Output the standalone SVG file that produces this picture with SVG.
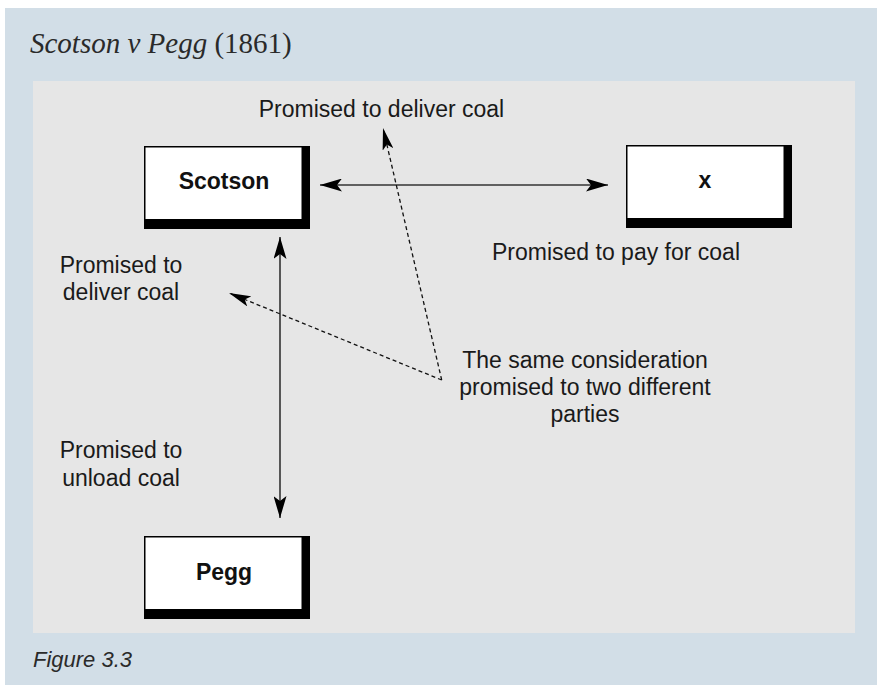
<svg xmlns="http://www.w3.org/2000/svg" width="877" height="685" viewBox="0 0 877 685">
  <style>
    .lbl { font-family: "Liberation Sans", Arial, sans-serif; font-size: 23px; fill: #1a1a1a; }
    .node-text { font-family: "Liberation Sans", Arial, sans-serif; font-size: 23px; font-weight: bold; fill: #111; text-anchor: middle; }
    .shadow { fill: #000; }
    .face { fill: #fff; stroke: #000; stroke-width: 1.5; }
    .solid { stroke: #333; stroke-width: 1.6; fill: none; }
    .dashed { stroke: #111; stroke-width: 1.3; stroke-dasharray: 4 3; fill: none; }
  </style>
  <defs>
    <marker id="ah" viewBox="0 0 22 13" refX="22" refY="6.5" markerWidth="22" markerHeight="13" markerUnits="userSpaceOnUse" orient="auto-start-reverse">
      <path d="M0,0 L22,6.5 L0,13 L5,6.5 Z" fill="#000"/>
    </marker>
    <marker id="ahd" viewBox="0 0 22 11" refX="22" refY="5.5" markerWidth="22" markerHeight="11" markerUnits="userSpaceOnUse" orient="auto">
      <path d="M0,0 L22,5.5 L0,11 L5,5.5 Z" fill="#000"/>
    </marker>
  </defs>

  <rect x="5" y="8" width="872" height="677" fill="#d2dee7"/>
  <rect x="33" y="81" width="822" height="552" fill="#e6e6e6"/>

  <text x="30" y="53" font-family="'Liberation Serif', 'Times New Roman', serif" font-size="29" fill="#2a2a2a"><tspan font-style="italic">Scotson v Pegg</tspan> (1861)</text>
  <text x="33" y="667" font-family="'Liberation Sans', Arial, sans-serif" font-size="22" font-style="italic" fill="#2a2a2a">Figure 3.3</text>

  <g id="connectors">
    <line class="solid" x1="320" y1="185" x2="608" y2="185" marker-start="url(#ah)" marker-end="url(#ah)"/>
    <line class="solid" x1="280" y1="237" x2="280" y2="518" marker-start="url(#ah)" marker-end="url(#ah)"/>
    <line class="dashed" x1="441.7" y1="380" x2="383" y2="128" marker-end="url(#ahd)"/>
    <line class="dashed" x1="441.7" y1="380" x2="229" y2="293" marker-end="url(#ahd)"/>
  </g>

  <g id="scotson">
    <rect class="shadow" x="144" y="146" width="166" height="83"/>
    <rect class="face" x="144.75" y="146.75" width="157.5" height="73"/>
    <text class="node-text" x="224" y="189">Scotson</text>
  </g>

  <g id="x">
    <rect class="shadow" x="626" y="145" width="166" height="83"/>
    <rect class="face" x="626.75" y="145.75" width="157.5" height="73"/>
    <text class="node-text" x="705" y="188">x</text>
  </g>

  <g id="pegg">
    <rect class="shadow" x="144" y="536" width="166" height="83"/>
    <rect class="face" x="144.75" y="536.75" width="157.5" height="73"/>
    <text class="node-text" x="224" y="580">Pegg</text>
  </g>

  <g id="labels">
    <text class="lbl" x="381.5" y="117" text-anchor="middle">Promised to deliver coal</text>
    <text class="lbl" x="492" y="260">Promised to pay for coal</text>
    <text class="lbl" x="121" y="273" text-anchor="middle">Promised to</text>
    <text class="lbl" x="121" y="300" text-anchor="middle">deliver coal</text>
    <text class="lbl" x="121" y="458" text-anchor="middle">Promised to</text>
    <text class="lbl" x="121" y="486" text-anchor="middle">unload coal</text>
    <text class="lbl" x="585" y="368" text-anchor="middle">The same consideration</text>
    <text class="lbl" x="585" y="395" text-anchor="middle">promised to two different</text>
    <text class="lbl" x="585" y="422" text-anchor="middle">parties</text>
  </g>
</svg>
